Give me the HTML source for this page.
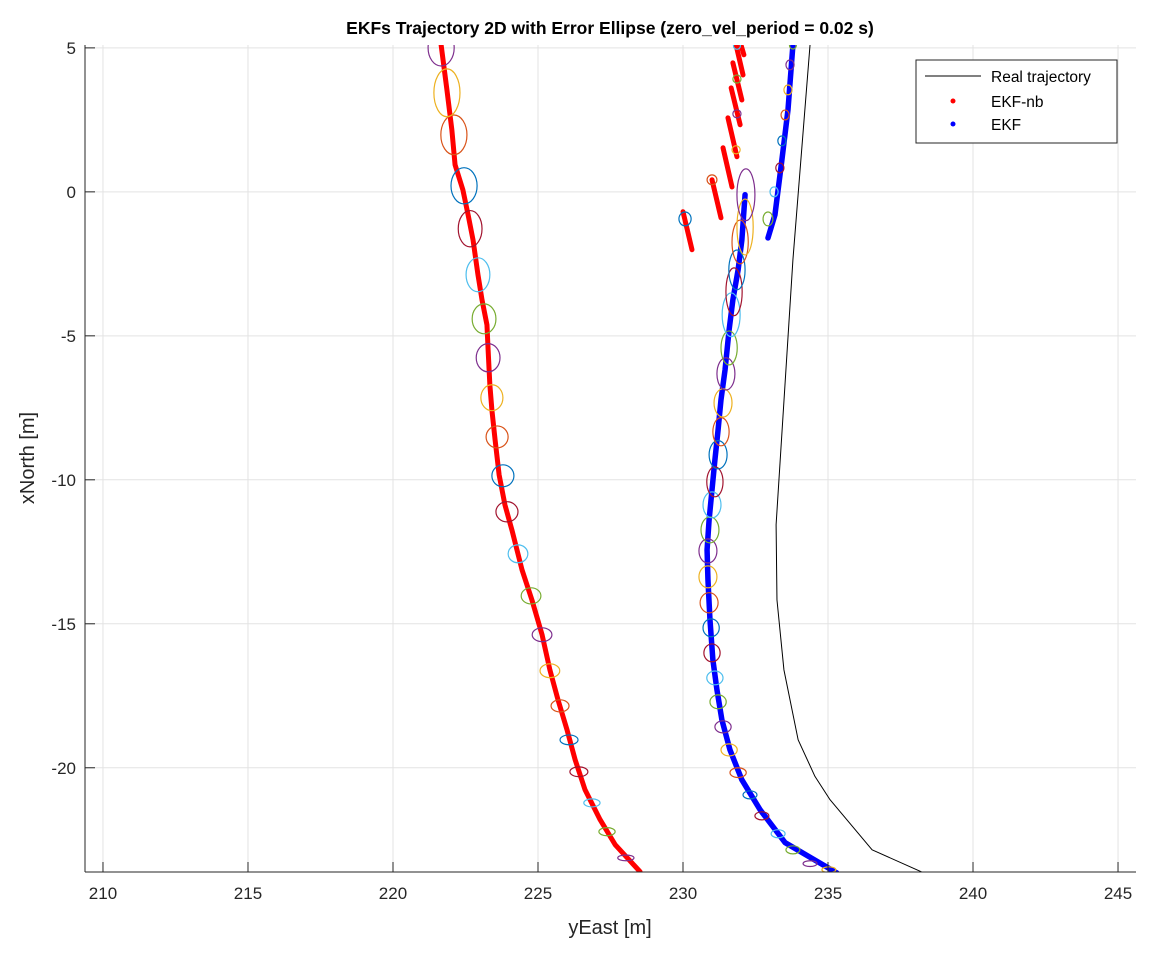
<!DOCTYPE html>
<html><head><meta charset="utf-8"><style>
body{margin:0;background:#fff;}
svg{display:block;font-family:"Liberation Sans",Arial,sans-serif;}
</style></head><body>
<svg id="chart" width="1168" height="954" viewBox="0 0 1168 954" xmlns="http://www.w3.org/2000/svg">
<defs><clipPath id="pc"><rect x="85" y="45" width="1051" height="827"/></clipPath></defs>
<rect x="0" y="0" width="1168" height="954" fill="#fff"/>
<g id="grid"></g>
<g id="marks" clip-path="url(#pc)"></g>
<g id="axes"></g>
<text x="610" y="34" text-anchor="middle" font-size="17.5" font-weight="bold" fill="#000">EKFs Trajectory 2D with Error Ellipse (zero_vel_period = 0.02 s)</text>
<text x="610" y="934" text-anchor="middle" font-size="20" fill="#262626">yEast [m]</text>
<text transform="translate(34,458) rotate(-90)" text-anchor="middle" font-size="20" fill="#262626">xNorth [m]</text>
<g>
<rect x="916" y="60" width="201" height="83" fill="#fff" stroke="#262626" stroke-width="1"/>
<line x1="925" y1="76" x2="981" y2="76" stroke="#000" stroke-width="1"/>
<text x="991" y="82" font-size="15.5" fill="#000">Real trajectory</text>
<circle cx="953" cy="101" r="2.5" fill="#f00"/>
<text x="991" y="107" font-size="15.5" fill="#000">EKF-nb</text>
<circle cx="953" cy="124" r="2.5" fill="#00f"/>
<text x="991" y="130" font-size="15.5" fill="#000">EKF</text>
</g>
</svg>
<script>
const xTicks=[210,215,220,225,230,235,240,245];
const yTicks=[5,0,-5,-10,-15,-20];
const realX=[234.38,233.79,233.21,233.24,233.48,233.97,234.55,235.07,236.52,238.30];
const realY=[5.10,-2.36,-11.56,-14.17,-16.60,-19.03,-20.30,-21.11,-22.85,-23.65];
const nbX=[221.66,221.86,222.03,222.14,222.41,222.59,222.76,222.93,223.07,223.24,223.28,223.34,223.41,223.52,223.66,223.86,224.10,224.45,224.79,225.14,225.41,225.69,226.00,226.28,226.62,227.14,227.66,228.52];
const nbY=[5.10,3.54,2.15,0.94,0.07,-0.80,-1.67,-2.88,-3.75,-4.62,-5.49,-6.70,-7.57,-8.61,-9.83,-10.87,-11.74,-13.13,-14.17,-15.38,-16.60,-17.64,-18.68,-19.72,-20.76,-21.80,-22.67,-23.61];
const nbSegX0=[230.00,231.00,231.38,231.55,231.66,231.72,231.83,232.00];
const nbSegY0=[-0.69,0.42,1.53,2.57,3.61,4.48,5.10,5.10];
const nbSegX1=[230.31,231.31,231.69,231.86,231.97,232.03,232.07,232.10];
const nbSegY1=[-2.01,-0.90,0.17,1.22,2.33,3.19,4.06,4.76];
const ekfUpX=[233.79,233.62,233.41,233.17,232.93];
const ekfUpY=[5.10,2.85,1.11,-0.80,-1.60];
const ekfX=[232.14,232.03,231.90,231.72,231.59,231.45,231.31,231.21,231.10,231.00,230.90,230.83,230.86,230.93,231.03,231.17,231.34,231.62,232.03,232.66,233.52,235.30];
const ekfY=[-0.10,-1.67,-2.71,-3.75,-4.79,-6.18,-7.22,-8.26,-9.31,-10.35,-11.39,-12.43,-13.47,-14.86,-16.25,-17.29,-18.33,-19.38,-20.42,-21.46,-22.60,-23.65];
const elNbX=[228.03,227.38,226.86,226.41,226.07,225.76,225.41,225.14,224.76,224.31,223.93,223.79,223.59,223.41,223.28,223.14,222.93,222.66,222.45,222.10,221.86,221.66];
const elNbY=[-23.13,-22.22,-21.22,-20.14,-19.03,-17.85,-16.63,-15.38,-14.03,-12.57,-11.11,-9.86,-8.51,-7.15,-5.76,-4.41,-2.88,-1.28,0.21,1.98,3.44,5.00];
const elNbA=[.28,.28,.28,.31,.31,.31,.34,.34,.34,.34,.38,.38,.38,.38,.41,.41,.41,.41,.45,.45,.45,.45];
const elNbB=[.10,.14,.14,.17,.17,.21,.24,.24,.28,.31,.35,.38,.38,.45,.49,.52,.59,.63,.63,.69,.83,.63];
const elEkfX=[235.03,234.38,233.79,233.28,232.72,232.31,231.90,231.59,231.38,231.21,231.10,231.00,230.97,230.90,230.86,230.86,230.93,231.00,231.10,231.21,231.31,231.38,231.48,231.59,231.66,231.76,231.86,231.97,232.14,232.17];
const elEkfY=[-23.54,-23.33,-22.85,-22.29,-21.67,-20.94,-20.17,-19.38,-18.58,-17.71,-16.88,-16.01,-15.14,-14.27,-13.37,-12.47,-11.74,-10.87,-10.07,-9.13,-8.33,-7.33,-6.32,-5.42,-4.27,-3.47,-2.71,-1.74,-1.22,-0.10];
const elEkfA=[.24,.24,.24,.24,.24,.24,.28,.28,.28,.28,.28,.28,.28,.31,.31,.31,.31,.31,.28,.31,.28,.31,.31,.28,.31,.28,.28,.28,.28,.31];
const elEkfB=[.10,.10,.14,.14,.14,.14,.17,.21,.21,.24,.24,.31,.31,.35,.38,.42,.45,.45,.52,.49,.49,.49,.56,.59,.76,.83,.69,.76,.97,.90];
const elUpX=[232.93,233.14,233.34,233.41,233.52,233.62,233.69,233.79];
const elUpY=[-0.94,0.00,0.83,1.77,2.67,3.54,4.41,5.10];
const elUpA=[.17,.14,.14,.14,.14,.14,.14,.12];
const elUpB=[.24,.17,.17,.17,.17,.17,.17,.14];
const elSegX=[230.07,231.00,231.83,231.86,231.86,231.86];
const elSegY=[-0.94,0.42,1.46,2.71,3.92,5.07];
const elSegA=[.21,.17,.14,.14,.14,.12];
const elSegB=[.24,.17,.14,.14,.14,.12];
const palette=["#0072BD","#D95319","#EDB120","#7E2F8E","#77AC30","#4DBEEE","#A2142F"];

const NS="http://www.w3.org/2000/svg";
const X0=209.38,X1=245.62,Y0=-23.62,Y1=5.10,L=85,R=1136,T=45,B=872;
function sx(v){return L+(v-X0)/(X1-X0)*(R-L);}
function sy(v){return B-(v-Y0)/(Y1-Y0)*(B-T);}
function kx(v){return v/(X1-X0)*(R-L);}
function ky(v){return v/(Y1-Y0)*(B-T);}
function mk(tag,attrs,parent){const e=document.createElementNS(NS,tag);for(const k in attrs)e.setAttribute(k,attrs[k]);parent.appendChild(e);return e;}
const grid=document.getElementById('grid'),marks=document.getElementById('marks'),axes=document.getElementById('axes');
xTicks.forEach(t=>{
  const g=mk('line',{x1:sx(t),x2:sx(t),y1:T,y2:B,stroke:'#e3e3e3','stroke-width':1},grid);
  
  
  const tk=mk('line',{x1:sx(t),x2:sx(t),y1:B,y2:B-10,stroke:'#262626','stroke-width':1},axes);
  
  
  const lb=mk('text',{x:sx(t),y:B+27,'text-anchor':'middle','font-size':17,fill:'#262626'},axes);
  lb.textContent=t;
  
  
});
yTicks.forEach(t=>{
  const g=mk('line',{x1:L,x2:R,y1:sy(t),y2:sy(t),stroke:'#e3e3e3','stroke-width':1},grid);
  
  
  const tk=mk('line',{x1:L,x2:L+10,y1:sy(t),y2:sy(t),stroke:'#262626','stroke-width':1},axes);
  
  
  const lb=mk('text',{x:L-9,y:sy(t)+6,'text-anchor':'end','font-size':17,fill:'#262626'},axes);
  lb.textContent=t;
  
  
});
const ax1=mk('line',{x1:L,x2:L,y1:T,y2:B,stroke:'#262626','stroke-width':1},axes);


const ax2=mk('line',{x1:L,x2:R,y1:B,y2:B,stroke:'#262626','stroke-width':1},axes);



function poly(xs,ys,color,w,name){
  const p=mk('polyline',{points:xs.map((v,i)=>sx(v)+','+sy(ys[i])).join(' '),fill:'none',stroke:color,'stroke-width':w,'stroke-linejoin':'round','stroke-linecap':'round'},marks);
  
  
}
poly(realX,realY,'#000',1,'real-trajectory-line');
poly(nbX,nbY,'#f00',5,'ekf-nb-trajectory');
nbSegX0.forEach((v,i)=>{
  const s=mk('line',{x1:sx(v),y1:sy(nbSegY0[i]),x2:sx(nbSegX1[i]),y2:sy(nbSegY1[i]),stroke:'#f00','stroke-width':5,'stroke-linecap':'round'},marks);
  
  
});
poly(ekfUpX,ekfUpY,'#00f',5.5,'ekf-trajectory-upper');
poly(ekfX,ekfY,'#00f',5.5,'ekf-trajectory');
function ells(xs,ys,as,bs,start,name){
  xs.forEach((v,i)=>{
    const e=mk('ellipse',{cx:sx(v),cy:sy(ys[i]),rx:kx(as[i]),ry:ky(bs[i]),fill:'none',stroke:palette[(start+i)%7],'stroke-width':1.2},marks);
    
    
  });
}
ells(elNbX,elNbY,elNbA,elNbB,3,'ekf-nb-error-ellipse');
ells(elEkfX,elEkfY,elEkfA,elEkfB,2,'ekf-error-ellipse');
ells(elUpX,elUpY,elUpA,elUpB,4,'ekf-upper-error-ellipse');
ells(elSegX,elSegY,elSegA,elSegB,0,'ekf-nb-segment-ellipse');
</script>
</body></html>
